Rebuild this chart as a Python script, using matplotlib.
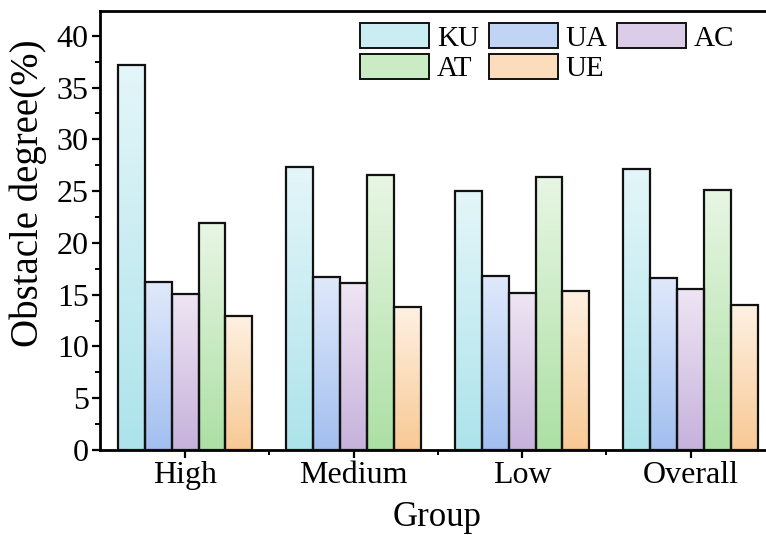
'''Grouped bar chart of obstacle degree by group.'''

import numpy as np
import matplotlib.pyplot as plt
from matplotlib.colors import LinearSegmentedColormap
from matplotlib.patches import Rectangle
from matplotlib.ticker import MultipleLocator, FixedLocator

plt.rcParams['font.family'] = ['Liberation Serif', 'DejaVu Serif']

# Data.
groups = ['High', 'Medium', 'Low', 'Overall']
series = ['KU', 'UA', 'AC', 'AT', 'UE']
ku = [37.2, 27.3, 25.0, 27.1]
ua = [16.2, 16.7, 16.8, 16.6]
ac = [15.1, 16.1, 15.2, 15.5]
at = [21.9, 26.6, 26.4, 25.1]
ue = [12.9, 13.8, 15.4, 14.0]
values = [ku, ua, ac, at, ue]

# Gradient colours: (top, bottom) for each series.
grads = [('#e4f6f9', '#ade3eb'),
         ('#e0e9fb', '#a2bff0'),
         ('#efe5f4', '#c6b2db'),
         ('#e8f6e4', '#ace0a4'),
         ('#fef1e2', '#f8c995')]

fig = plt.figure(figsize=(7.66, 5.35), dpi=100)
ax = fig.add_axes([0.1305, 0.1589, 0.892, 0.8206])

x = np.arange(len(groups))
width = 0.16
grad_img = np.linspace(1, 0, 256).reshape(-1, 1)

for i, (name, vals) in enumerate(zip(series, values)):
    cmap = LinearSegmentedColormap.from_list(name, [grads[i][1], grads[i][0]])
    xs = x + (i - 2) * width
    bars = ax.bar(xs, vals, width, facecolor='none', edgecolor='#111111',
                  linewidth=1.6, zorder=3, label=name)
    # Fill each bar with a vertical gradient clipped to the bar.
    for b in bars:
        im = ax.imshow(grad_img, cmap=cmap, aspect='auto', zorder=2,
                       extent=[b.get_x(), b.get_x() + b.get_width(),
                               0, b.get_height()], vmin=0, vmax=1)
        im.set_clip_path(b)

ax.set_xlim(-0.505, 3.55)
ax.set_ylim(0, 42.4)

# Legend with flat patches in the mid colour of each gradient.
handles = []
for i, name in enumerate(series):
    cmap = LinearSegmentedColormap.from_list(name, [grads[i][1], grads[i][0]])
    handles.append(Rectangle((0, 0), 1, 1, facecolor=cmap(0.5),
                             edgecolor='#111111', linewidth=1.4))
order = [0, 3, 1, 4, 2]
ax.legend([handles[k] for k in order], [series[k] for k in order],
          ncol=3, frameon=False, fontsize=21, loc='upper left',
          bbox_to_anchor=(0.381, 0.972), handlelength=2.36, handleheight=0.95,
          handletextpad=0.27, columnspacing=0.34, labelspacing=0.06,
          borderaxespad=0.0, borderpad=0.0)

ax.set_xticks(x)
ax.set_xticklabels(groups)
ax.xaxis.set_minor_locator(FixedLocator([0.5, 1.5, 2.5]))
ax.yaxis.set_major_locator(MultipleLocator(5))
ax.yaxis.set_minor_locator(MultipleLocator(2.5))
ax.tick_params(axis='both', which='major', labelsize=23)
ax.tick_params(axis='both', which='major', width=1.6,
               length=6, direction='out', pad=2)
ax.tick_params(axis='both', which='minor', width=1.4, length=3.5,
               direction='out')

ax.set_ylabel('Obstacle degree(%)', fontsize=28)
ax.set_xlabel('Group', fontsize=25)
ax.yaxis.set_label_coords(-0.078, 0.585)
ax.xaxis.set_label_coords(0.494, -0.117)

for s in ax.spines.values():
    s.set_linewidth(2.0)
ax.spines['right'].set_visible(False)

fig.savefig('out.png', dpi=100)
